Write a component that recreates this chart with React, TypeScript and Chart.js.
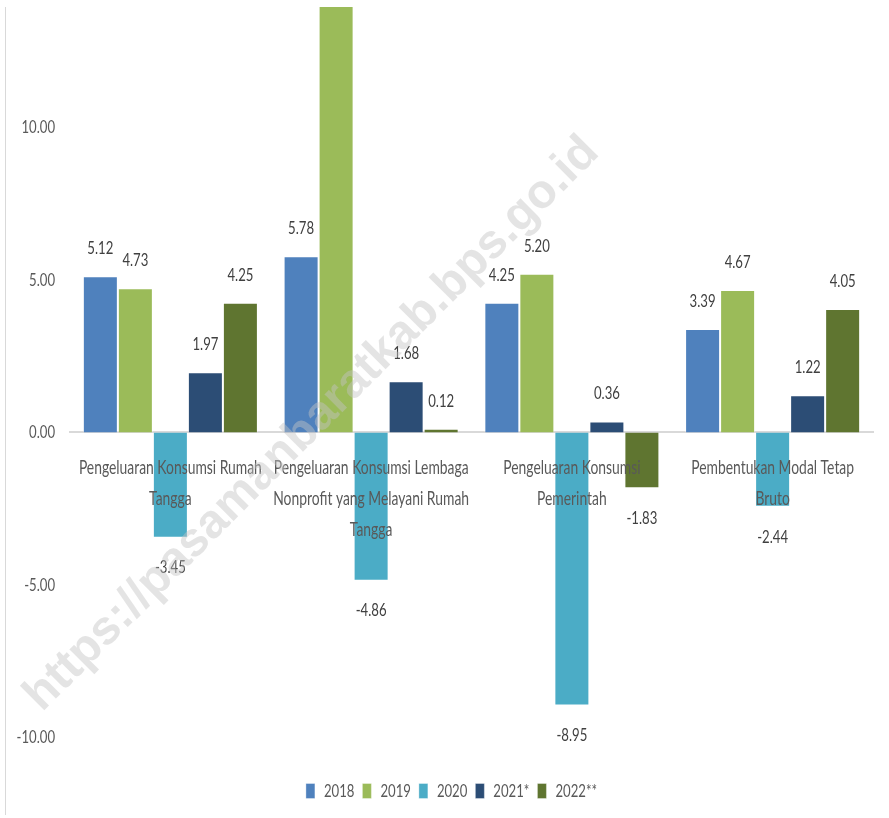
import React, { useEffect, useRef } from "react";
import { Chart, registerables } from "chart.js";

Chart.register(...registerables);

const categories: string[][] = [
  ["Pengeluaran Konsumsi Rumah", "Tangga"],
  ["Pengeluaran Konsumsi Lembaga", "Nonprofit yang Melayani Rumah", "Tangga"],
  ["Pengeluaran Konsumsi", "Pemerintah"],
  ["Pembentukan Modal Tetap", "Bruto"],
];

const seriesNames = ["2018", "2019", "2020", "2021*", "2022**"];
const values2018 = [5.12, 5.78, 4.25, 3.39];
const values2019 = [4.73, 14.2, 5.2, 4.67];
const values2020 = [-3.45, -4.86, -8.95, -2.44];
const values2021 = [1.97, 1.68, 0.36, 1.22];
const values2022 = [4.25, 0.12, -1.83, 4.05];
const seriesColors = ["#4f81bd", "#9bbb59", "#4bacc6", "#2c4d75", "#5f7530"];
const yTicks = [-10, -5, 0, 5, 10];
const watermarkText = "https://pasamanbaratkab.bps.go.id";

const FONT = 'Lato, "DejaVu Sans Condensed", sans-serif';
const SX = 0.73; // horizontal condensing of the narrow source typeface

function patchContext(ctx: any) {
  if (ctx._origFill) return;
  const origFill = ctx.fillText.bind(ctx);
  const origMeasure = ctx.measureText.bind(ctx);
  ctx._origFill = origFill;
  ctx._origMeasure = origMeasure;
  ctx.fillText = function (text: string, x: number, y: number, maxWidth?: number) {
    ctx.save();
    ctx.translate(x, y);
    ctx.scale(SX, 1);
    if (maxWidth !== undefined && maxWidth !== null) origFill(text, 0, 0, maxWidth / SX);
    else origFill(text, 0, 0);
    ctx.restore();
  };
  ctx.measureText = function (text: string) {
    const m = origMeasure(text);
    return {
      width: m.width * SX,
      actualBoundingBoxAscent: m.actualBoundingBoxAscent,
      actualBoundingBoxDescent: m.actualBoundingBoxDescent,
      actualBoundingBoxLeft: m.actualBoundingBoxLeft * SX,
      actualBoundingBoxRight: m.actualBoundingBoxRight * SX,
      fontBoundingBoxAscent: m.fontBoundingBoxAscent,
      fontBoundingBoxDescent: m.fontBoundingBoxDescent,
    };
  };
}

const dataLabels = {
  id: "dataLabels",
  afterDatasetsDraw(chart: any) {
    const ctx = chart.ctx;
    const area = chart.chartArea;
    ctx.save();
    ctx.font = `18px ${FONT}`;
    ctx.fillStyle = "#404040";
    ctx.textAlign = "center";
    ctx.textBaseline = "middle";
    chart.data.datasets.forEach((ds: any, di: number) => {
      const meta = chart.getDatasetMeta(di);
      meta.data.forEach((bar: any, i: number) => {
        const v = ds.data[i];
        const y = v >= 0 ? bar.y - 28 : bar.y + 30;
        if (y < area.top || y > area.bottom) return;
        ctx.fillText(v.toFixed(2), bar.x, y);
      });
    });
    ctx.restore();
  },
};

const legendShift = {
  id: "legendShift",
  afterLayout(chart: any) {
    if (chart.legend) {
      chart.legend.left += 15;
      chart.legend.right += 15;
    }
  },
};

const frameAndWatermark = {
  id: "frameAndWatermark",
  afterDraw(chart: any) {
    const ctx = chart.ctx;
    ctx.save();
    ctx.strokeStyle = "#d9d9d9";
    ctx.lineWidth = 1;
    ctx.beginPath();
    ctx.moveTo(5.5, 7);
    ctx.lineTo(5.5, 815);
    ctx.stroke();
    ctx.restore();

    const fill = ctx._origFill || ctx.fillText.bind(ctx);
    const measure = ctx._origMeasure || ctx.measureText.bind(ctx);
    ctx.save();
    ctx.translate(312, 424);
    ctx.rotate((-45 * Math.PI) / 180);
    ctx.font = `bold 40px "Liberation Sans", Arial, sans-serif`;
    const w = measure(watermarkText).width;
    const size = (40 * 790) / w;
    ctx.font = `bold ${size}px "Liberation Sans", Arial, sans-serif`;
    ctx.fillStyle = "rgba(195,195,195,0.45)";
    ctx.textAlign = "center";
    ctx.textBaseline = "middle";
    fill(watermarkText, 0, 0);
    ctx.restore();
  },
};

export default function App() {
  const ref = useRef<HTMLCanvasElement | null>(null);
  useEffect(() => {
    if (!ref.current) return;
    const ctx2d = ref.current.getContext("2d");
    patchContext(ctx2d);
    const allValues = [values2018, values2019, values2020, values2021, values2022];
    const chart = new Chart(ctx2d as any, {
      type: "bar",
      data: {
        labels: categories,
        datasets: allValues.map((vals, i) => ({
          label: seriesNames[i],
          data: vals,
          backgroundColor: seriesColors[i],
          borderColor: "rgba(255,255,255,0.35)",
          borderWidth: 1,
          barPercentage: 1,
          categoryPercentage: 0.872,
        })),
      },
      options: {
        animation: false,
        responsive: false,
        layout: { padding: { top: 7, right: 16, left: 0, bottom: 8 } },
        plugins: {
          tooltip: { enabled: false },
          legend: {
            position: "bottom",
            labels: {
              boxWidth: 9,
              boxHeight: 15,
              padding: 8,
              color: "#595959",
              font: { family: FONT, size: 18 },
            },
          },
        },
        scales: {
          x: {
            position: { y: 0 } as any,
            grid: { display: false, drawTicks: false },
            border: { display: true, color: "#d9d9d9", width: 2 },
            ticks: {
              z: 1,
              color: "#595959",
              font: { family: FONT, size: 19, lineHeight: "31px" as any },
              padding: 20,
              maxRotation: 0,
              autoSkip: false,
            },
          },
          y: {
            min: -11.2,
            max: 13.95,
            grid: { display: false, drawTicks: false },
            border: { display: false },
            afterFit(scale: any) {
              scale.width = 70;
              scale.paddingTop = 0;
              scale.paddingBottom = 0;
            },
            afterBuildTicks(scale: any) {
              scale.ticks = yTicks.map((v) => ({ value: v }));
            },
            ticks: {
              color: "#595959",
              font: { family: FONT, size: 18 },
              padding: 15,
              callback: (v: any) => Number(v).toFixed(2),
            },
          },
        },
      },
      plugins: [dataLabels, legendShift, frameAndWatermark],
    });
    return () => chart.destroy();
  }, []);
  return (
    <div style={{ position: "absolute", left: 0, top: 0, width: 889, height: 818 }}>
      <canvas ref={ref} width={889} height={818} />
    </div>
  );
}
